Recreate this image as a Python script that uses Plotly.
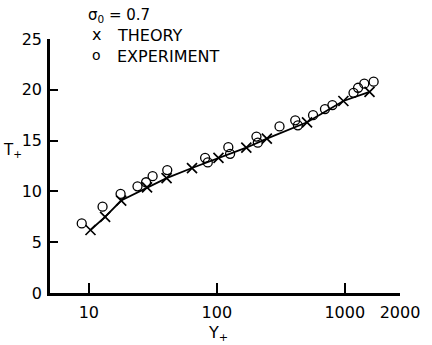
import plotly.graph_objects as go

# Theory (x markers, joined by line)
theory_y = [10.3, 13.4, 17.9, 28.5, 40.5, 64, 103, 170, 246, 507, 975, 1560]
theory_t = [6.2, 7.5, 9.1, 10.4, 11.3, 12.3, 13.3, 14.3, 15.2, 16.8, 18.9, 19.8]

# Experiment (open circles)
exp_y = [8.8, 12.8, 17.7, 24, 28, 31.5, 41, 81, 85, 123, 127, 204, 209, 309, 410, 430,
         565, 700, 800, 1170, 1270, 1420, 1680]
exp_t = [6.85, 8.5, 9.75, 10.5, 10.9, 11.5, 12.1, 13.3, 12.85, 14.35, 13.7, 15.4, 14.8,
         16.4, 17.0, 16.5, 17.5, 18.1, 18.5, 19.7, 20.2, 20.6, 20.8]

x_ticks = [10, 100, 1000]
x_ticktext = ["10", "100", "1000"]
x_axis_end = 2700          # the drawn axis ends here; the original labels that end "2000"
x_end_label = "2000"
y_ticks = [0, 5, 10, 15, 20, 25]

FONT = "DejaVu Sans"

fig = go.Figure()
fig.add_trace(go.Scatter(
    x=theory_y, y=theory_t, mode="lines+markers",
    line=dict(color="black", width=1.8),
    marker=dict(symbol="x-thin-open", size=10, line=dict(color="black", width=1.7)),
    showlegend=False))
fig.add_trace(go.Scatter(
    x=exp_y, y=exp_t, mode="markers",
    marker=dict(symbol="circle-open", size=9, color="black", line=dict(color="black", width=1.3)),
    showlegend=False))

fig.update_layout(
    width=432, height=345,
    margin=dict(l=49.5, r=28, t=39, b=51.7),
    paper_bgcolor="white", plot_bgcolor="white",
    font=dict(family=FONT, size=16, color="black"),
    xaxis=dict(type="log", range=[0.6965, 3.4314],
               tickvals=x_ticks + [x_axis_end], ticktext=x_ticktext + [x_end_label],
               ticks="inside", ticklen=10, tickwidth=1.5, tickcolor="black",
               showline=True, linewidth=2.5, linecolor="black",
               showgrid=False, zeroline=False, ticklabelstandoff=3),
    yaxis=dict(range=[0, 25], tickvals=y_ticks,
               ticks="inside", ticklen=8, tickwidth=1.5, tickcolor="black",
               showline=True, linewidth=2.5, linecolor="black",
               showgrid=False, zeroline=False, ticklabelstandoff=2),
)

def ann(text, x, y, xanchor="left", size=16):
    fig.add_annotation(text=text, x=x, y=y, xref="paper", yref="paper",
                       xanchor=xanchor, yanchor="middle", showarrow=False,
                       font=dict(family=FONT, size=size, color="black"))

ann("σ<sub>0</sub> = 0.7", 0.104, 1.094, size=15)
ann("x", 0.134, 1.016, xanchor="center", size=16)
ann("THEORY", 0.185, 1.012, size=16)
ann("o", 0.134, 0.937, xanchor="center", size=14)
ann("EXPERIMENT", 0.185, 0.933, size=16)
ann("Y<sub>+</sub>", 0.481, -0.16, xanchor="center")
ann("T<sub>+</sub>", -0.14, 0.56, size=15)

fig.write_html("out.html")
